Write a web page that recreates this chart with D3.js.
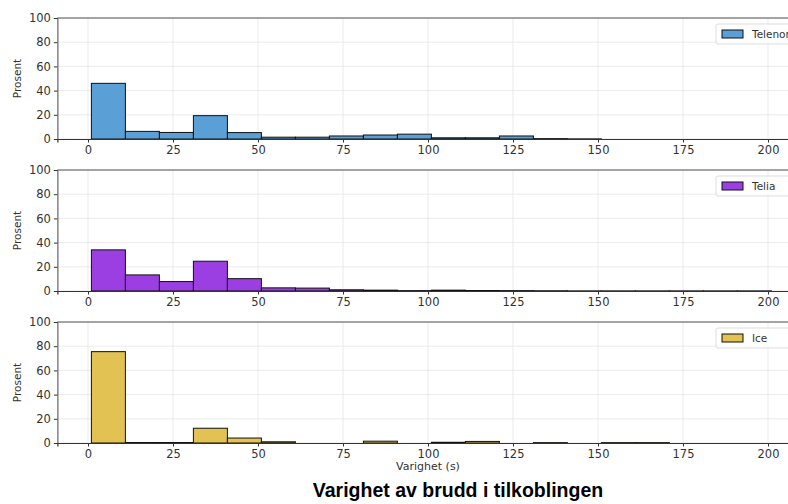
<!DOCTYPE html>
<html>
<head>
<meta charset="utf-8">
<script src="https://cdn.jsdelivr.net/npm/d3@7.9.0/dist/d3.min.js"></script>
<style>
  body { margin: 0; background: #fff; }
  svg text { font-family: "DejaVu Sans", sans-serif; fill: #333; }
</style>
</head>
<body>
<svg id="chart" width="788" height="504"></svg>
<script>
// bins are 10 s wide, starting at 1 s
const binStarts = d3.range(1, 201, 10);
const providers = ['Telenor', 'Telia', 'Ice'];
const telenor = [46, 6.3, 5.4, 19.3, 5.3, 1.5, 1.5, 2.5, 3.3, 4, 1, 1, 2.5, 0.3, 0.1, 0, 0, 0, 0, 0];
const telia = [34, 13.3, 7.8, 24.6, 10.2, 2.6, 2.4, 1, 0.7, 0.3, 0.7, 0.4, 0.3, 0.2, 0.1, 0.1, 0.1, 0.1, 0.1, 0.1];
const ice = [75.5, 0.4, 0.4, 12.2, 4.1, 1, 0, 0, 1.5, 0, 0.6, 1.3, 0, 0.3, 0, 0.3, 0.3, 0, 0, 0];
const seriesValues = [telenor, telia, ice];
const colors = ['#5a9fd6', '#9b3fe2', '#e2c252'];
const xTicks = [0, 25, 50, 75, 100, 125, 150, 175, 200];
const yTicks = [0, 20, 40, 60, 80, 100];

const svg = d3.select('#chart');
const panelTops = [18, 170, 322];
const panelH = 121;

const x = d3.scaleLinear().domain([-9, 215]).range([57.4, 57.4 + 224 * 3.4]);

panelTops.forEach((top, i) => {
  const y = d3.scaleLinear().domain([0, 100]).range([top + panelH, top]);
  const g = svg.append('g');

  // grid
  g.selectAll('.gx').data(xTicks).join('line')
    .attr('x1', d => x(d)).attr('x2', d => x(d))
    .attr('y1', top).attr('y2', top + panelH)
    .attr('stroke', '#e6e6e6').attr('stroke-width', 0.8);
  g.selectAll('.gy').data(yTicks).join('line')
    .attr('x1', x.range()[0]).attr('x2', x.range()[1])
    .attr('y1', d => y(d)).attr('y2', d => y(d))
    .attr('stroke', '#e6e6e6').attr('stroke-width', 0.8);

  // bars
  const data = binStarts.map((s, k) => ({ s, v: seriesValues[i][k] }));
  g.selectAll('rect.bar').data(data.filter(d => d.v > 0)).join('rect')
    .attr('class', 'bar')
    .attr('x', d => x(d.s))
    .attr('width', d => x(d.s + 10) - x(d.s))
    .attr('y', d => y(d.v))
    .attr('height', d => y(0) - y(d.v))
    .attr('fill', colors[i])
    .attr('stroke', '#111')
    .attr('stroke-width', 1);

  // axes
  const xAxis = d3.axisBottom(x).tickValues(xTicks).tickSize(3.5).tickPadding(3);
  const gx = g.append('g').attr('transform', `translate(0,${top + panelH})`).call(xAxis);
  gx.select('.domain').attr('stroke', '#333').attr('stroke-width', 1.2);
  gx.selectAll('.tick line').attr('stroke', '#333');
  gx.selectAll('text').style('font-size', '11.5px');

  const yAxis = d3.axisLeft(y).tickValues(yTicks).tickSize(3.5).tickPadding(3);
  const gy = g.append('g').attr('transform', `translate(${x.range()[0]},0)`).call(yAxis);
  gy.select('.domain').attr('stroke', '#444').attr('stroke-width', 1);
  gy.selectAll('.tick line').attr('stroke', '#333');
  gy.selectAll('text').style('font-size', '11.5px');

  // top spine
  g.append('line').attr('x1', x.range()[0]).attr('x2', x.range()[1])
    .attr('y1', top).attr('y2', top).attr('stroke', '#555').attr('stroke-width', 1.2);

  g.append('text')
    .attr('transform', `translate(21,${top + panelH / 2}) rotate(-90)`)
    .attr('text-anchor', 'middle')
    .style('font-size', '10.5px')
    .text('Prosent');

  // legend (cut off at the right edge, as in the source)
  const lg = g.append('g').attr('transform', `translate(716,${top + 6})`);
  lg.append('rect').attr('width', 90).attr('height', 20).attr('rx', 2)
    .attr('fill', '#fff').attr('fill-opacity', 0.8).attr('stroke', '#ddd');
  lg.append('rect').attr('x', 6).attr('y', 6).attr('width', 21).attr('height', 8)
    .attr('fill', colors[i]).attr('stroke', '#111');
  lg.append('text').attr('x', 36).attr('y', 14).style('font-size', '10.5px').text(providers[i]);
});

svg.append('text')
  .attr('x', x(100)).attr('y', 470)
  .attr('text-anchor', 'middle')
  .style('font-size', '11px')
  .text('Varighet (s)');

svg.append('text')
  .attr('x', 458).attr('y', 497)
  .attr('text-anchor', 'middle')
  .style('font-family', '"Liberation Sans", Arial, sans-serif')
  .style('font-weight', 'bold')
  .style('font-size', '19.5px')
  .style('fill', '#000')
  .text('Varighet av brudd i tilkoblingen');
</script>
</body>
</html>
